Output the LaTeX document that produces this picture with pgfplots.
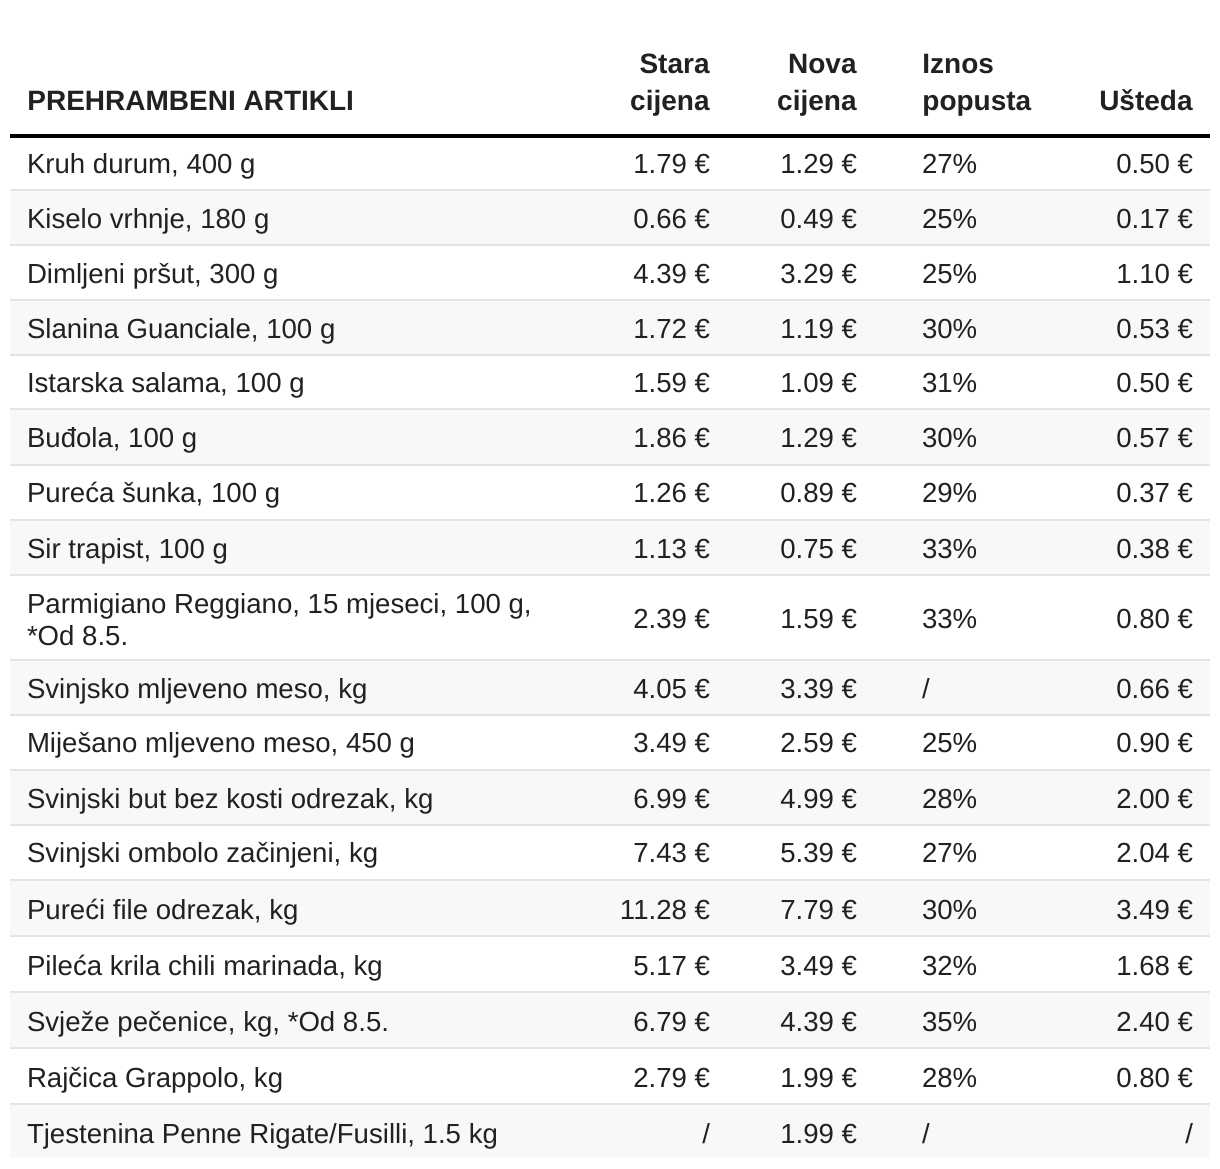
\documentclass[border=0pt]{standalone}
\usepackage{pgfplots}
\pgfplotsset{compat=1.18}
\usepackage{pgfplotstable}
\usepackage{fontspec}
\setmainfont{Liberation Sans}
\definecolor{txt}{HTML}{212121}
\definecolor{rowgray}{HTML}{F8F8F8}
\definecolor{sepgray}{HTML}{E4E4E4}
\definecolor{thick}{HTML}{333333}
\newcommand{\bodyfont}{\fontsize{13.8pt}{17pt}\selectfont}

\pgfplotstableread[col sep=semicolon]{
y;name
175;Kruh durum, 400 g
230;Kiselo vrhnje, 180 g
285;Dimljeni pršut, 300 g
340;Slanina Guanciale, 100 g
394;Istarska salama, 100 g
449;Buđola, 100 g
504;Pureća šunka, 100 g
560;Sir trapist, 100 g
615;Parmigiano Reggiano, 15 mjeseci, 100 g,
647;*Od 8.5.
700;Svinjsko mljeveno meso, kg
754;Miješano mljeveno meso, 450 g
810;Svinjski but bez kosti odrezak, kg
864;Svinjski ombolo začinjeni, kg
921;Pureći file odrezak, kg
977;Pileća krila chili marinada, kg
1033;Svježe pečenice, kg, *Od 8.5.
1089;Rajčica Grappolo, kg
1145;Tjestenina Penne Rigate/Fusilli, 1.5 kg
}\names

\pgfplotstableread[col sep=semicolon]{
y;stara;nova;popust;usteda
175;1.79 €;1.29 €;27\%;0.50 €
230;0.66 €;0.49 €;25\%;0.17 €
285;4.39 €;3.29 €;25\%;1.10 €
340;1.72 €;1.19 €;30\%;0.53 €
394;1.59 €;1.09 €;31\%;0.50 €
449;1.86 €;1.29 €;30\%;0.57 €
504;1.26 €;0.89 €;29\%;0.37 €
560;1.13 €;0.75 €;33\%;0.38 €
630;2.39 €;1.59 €;33\%;0.80 €
700;4.05 €;3.39 €;/;0.66 €
754;3.49 €;2.59 €;25\%;0.90 €
810;6.99 €;4.99 €;28\%;2.00 €
864;7.43 €;5.39 €;27\%;2.04 €
921;11.28 €;7.79 €;30\%;3.49 €
977;5.17 €;3.49 €;32\%;1.68 €
1033;6.79 €;4.39 €;35\%;2.40 €
1089;2.79 €;1.99 €;28\%;0.80 €
1145;/;1.99 €;/;/
}\vals

\begin{document}
\begin{tikzpicture}
\begin{axis}[
  scale only axis, width=610pt, height=584pt,
  xmin=0, xmax=1220, ymin=0, ymax=1168, y dir=reverse,
  hide axis, clip=false,
  txtnode/.style={draw=none, mark=none, nodes near coords, point meta=explicit symbolic,
     nodes near coords style={inner sep=0pt, outer sep=0pt, font=\bodyfont, text=txt, anchor=#1, yshift=1pt}},
]
\addplot[fill=white, draw=none] coordinates {(0,0) (1220,0) (1220,1168) (0,1168)} -- cycle;
% alternating row backgrounds
\addplot[fill=rowgray, draw=none] coordinates {(10,190) (1210,190) (1210,245) (10,245)} -- cycle;
\addplot[fill=rowgray, draw=none] coordinates {(10,300) (1210,300) (1210,355) (10,355)} -- cycle;
\addplot[fill=rowgray, draw=none] coordinates {(10,409) (1210,409) (1210,465) (10,465)} -- cycle;
\addplot[fill=rowgray, draw=none] coordinates {(10,520) (1210,520) (1210,575) (10,575)} -- cycle;
\addplot[fill=rowgray, draw=none] coordinates {(10,660) (1210,660) (1210,715) (10,715)} -- cycle;
\addplot[fill=rowgray, draw=none] coordinates {(10,770) (1210,770) (1210,825) (10,825)} -- cycle;
\addplot[fill=rowgray, draw=none] coordinates {(10,880) (1210,880) (1210,936) (10,936)} -- cycle;
\addplot[fill=rowgray, draw=none] coordinates {(10,992) (1210,992) (1210,1048) (10,1048)} -- cycle;
\addplot[fill=rowgray, draw=none] coordinates {(10,1104) (1210,1104) (1210,1158) (10,1158)} -- cycle;
% separators
\pgfplotsinvokeforeach{190,245,300,355,409,465,520,575,660,715,770,825,880,936,992,1048,1104}{
  \addplot[sepgray, line width=1.1pt, mark=none] coordinates {(10,#1) (1210,#1)};
}
\addplot[thick, line width=2pt, mark=none] coordinates {(10,136) (1210,136)};
% body text
\addplot[txtnode=base west] table[x expr=27, y=y, meta=name] {\names};
\addplot[txtnode=base east] table[x expr=710, y=y, meta=stara] {\vals};
\addplot[txtnode=base east] table[x expr=857, y=y, meta=nova] {\vals};
\addplot[txtnode=base west] table[x expr=922, y=y, meta=popust] {\vals};
\addplot[txtnode=base east] table[x expr=1193, y=y, meta=usteda] {\vals};
% header
\begin{scope}[every node/.style={inner sep=0pt, font=\fontsize{14pt}{17pt}\selectfont\bfseries, text=txt}]
\node[anchor=base west] at (axis cs:27,110) {PREHRAMBENI ARTIKLI};
\node[anchor=base east] at (axis cs:710,73) {Stara};
\node[anchor=base east] at (axis cs:710,110) {cijena};
\node[anchor=base east] at (axis cs:857,73) {Nova};
\node[anchor=base east] at (axis cs:857,110) {cijena};
\node[anchor=base west] at (axis cs:922,73) {Iznos};
\node[anchor=base west] at (axis cs:922,110) {popusta};
\node[anchor=base east] at (axis cs:1193,110) {Ušteda};
\end{scope}
\end{axis}
\end{tikzpicture}
\end{document}
